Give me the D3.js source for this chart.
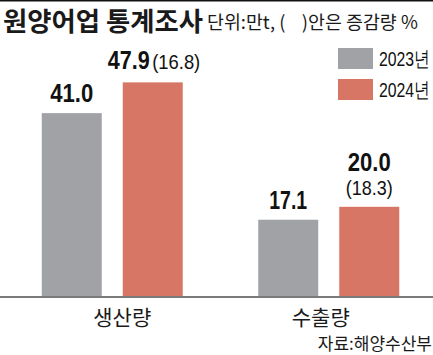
<!DOCTYPE html>
<html><head><meta charset="utf-8">
<script src="https://cdn.jsdelivr.net/npm/d3@7"></script>
<style>
html,body{margin:0;padding:0;background:#fff;}
svg{display:block;}
</style></head>
<body>
<script>
const categories = ["생산량", "수출량"];
const series = ["2023년", "2024년"];
const values2023 = [41.0, 17.1];
const values2024 = [47.9, 20.0];
const changes2024 = ["(16.8)", "(18.3)"];
const title = "원양어업 통계조사";
const subtitle = "단위:만t, (    )안은 증감량 %";
const source = "자료:해양수산부";

const W = 433, H = 355;
const colors = {"2023년": "#a1a2a6", "2024년": "#d87666"};
const KR = "'Noto Sans CJK KR', 'Noto Sans', sans-serif";
const NUM = "'Liberation Sans Narrow', 'Liberation Sans', Arial, sans-serif";

const svg = d3.select("body").append("svg").attr("width", W).attr("height", H);

// horizontally scale a text so it spans `len` pixels (keeps its x as left edge)
function fit(sel, len) {
  sel.each(function () {
    const w = this.getComputedTextLength();
    const x = +this.getAttribute("x") || 0;
    const s = len / w;
    this.setAttribute("transform", `translate(${x},0) scale(${s},1) translate(${-x},0)`);
  });
  return sel;
}

// top rule
svg.append("rect").attr("x", 0).attr("y", 0).attr("width", W).attr("height", 1.5).attr("fill", "#111");

fit(svg.append("text").attr("x", 3).attr("y", 31.5).text(title)
  .attr("font-family", KR).attr("font-weight", 700).attr("font-size", 26.5).attr("fill", "#1a1a1a"), 200);
fit(svg.append("text").attr("x", 207).attr("y", 29).text(subtitle)
  .attr("font-family", KR).attr("font-size", 18.5).attr("fill", "#1a1a1a")
  .attr("xml:space", "preserve"), 211);

const baseY = 296;
const y = d3.scaleLinear().domain([0, 50]).range([baseY, baseY - 4.46 * 50]);
const x0 = d3.scaleBand().domain(categories).range([4, 437]).padding(0);
const stepIn = 81, barW = 60;
const pIn = (stepIn - barW) / stepIn;
const pOut = (x0.bandwidth() / stepIn - 2 + pIn) / 2;
const x1 = d3.scaleBand().domain(series).range([0, x0.bandwidth()]).paddingInner(pIn).paddingOuter(pOut);

const rows = categories.map((c, i) => ({cat: c, i, vals: [
  {s: series[0], v: values2023[i]}, {s: series[1], v: values2024[i]}]}));

const g = svg.selectAll("g.grp").data(rows).join("g").attr("class", "grp")
  .attr("transform", d => `translate(${x0(d.cat)},0)`);
g.selectAll("rect").data(d => d.vals).join("rect")
  .attr("x", d => x1(d.s)).attr("width", x1.bandwidth())
  .attr("y", d => y(d.v)).attr("height", d => baseY - y(d.v))
  .attr("fill", d => colors[d.s]);

// axis baseline
svg.append("rect").attr("x", 0).attr("y", baseY).attr("width", W).attr("height", 2).attr("fill", "#7a7a7a");

// value labels
const NS = 25.5;
const numW = v => (String(v.toFixed(1)).startsWith("1") ? 38 : 43);
rows.forEach(r => {
  const gx = x0(r.cat);
  const cx23 = gx + x1(series[0]) + x1.bandwidth() / 2;
  const cx24 = gx + x1(series[1]) + x1.bandwidth() / 2;
  fit(svg.append("text").attr("x", cx23 - numW(values2023[r.i]) / 2).attr("y", y(r.vals[0].v) - 11)
    .attr("font-family", NUM).attr("font-weight", 700).attr("font-size", NS).attr("fill", "#111")
    .text(values2023[r.i].toFixed(1)), numW(values2023[r.i]));
  if (r.i === 0) {
    const ty = y(r.vals[1].v) - 13;
    fit(svg.append("text").attr("x", cx24 - 45).attr("y", ty)
      .attr("font-family", NUM).attr("font-weight", 700).attr("font-size", NS).attr("fill", "#111")
      .text(values2024[r.i].toFixed(1)), 42);
    fit(svg.append("text").attr("x", cx24 - 0.5).attr("y", ty)
      .attr("font-family", NUM).attr("font-size", 21).attr("fill", "#111")
      .text(changes2024[r.i]), 48);
  } else {
    fit(svg.append("text").attr("x", cx24 - 21.5).attr("y", y(r.vals[1].v) - 36)
      .attr("font-family", NUM).attr("font-weight", 700).attr("font-size", NS).attr("fill", "#111")
      .text(values2024[r.i].toFixed(1)), 43);
    fit(svg.append("text").attr("x", cx24 - 23.5).attr("y", y(r.vals[1].v) - 12)
      .attr("font-family", NUM).attr("font-size", 21).attr("fill", "#111")
      .text(changes2024[r.i]), 47);
  }
});

// category labels
const catOffset = [10, -8];
svg.selectAll("text.cat").data(categories).join("text").attr("class", "cat")
  .attr("x", (d, i) => x0(d) + x0.bandwidth() / 2 + catOffset[i]).attr("y", 325)
  .attr("text-anchor", "middle").attr("font-family", KR).attr("font-size", 21).attr("fill", "#1a1a1a")
  .text(d => d);

// legend
const leg = svg.selectAll("g.leg").data(series).join("g").attr("class", "leg")
  .attr("transform", (d, i) => `translate(338,${48 + i * 31})`);
leg.append("rect").attr("width", 35).attr("height", 21).attr("fill", d => colors[d]);
fit(leg.append("text").attr("x", 41).attr("y", 17.5).attr("font-family", NUM).attr("font-size", 21).attr("fill", "#111")
  .text(d => d), 51);

svg.append("text").attr("x", 432).attr("y", 350).attr("text-anchor", "end")
  .attr("font-family", KR).attr("font-size", 17).attr("fill", "#1a1a1a").text(source);
</script>
</body></html>
